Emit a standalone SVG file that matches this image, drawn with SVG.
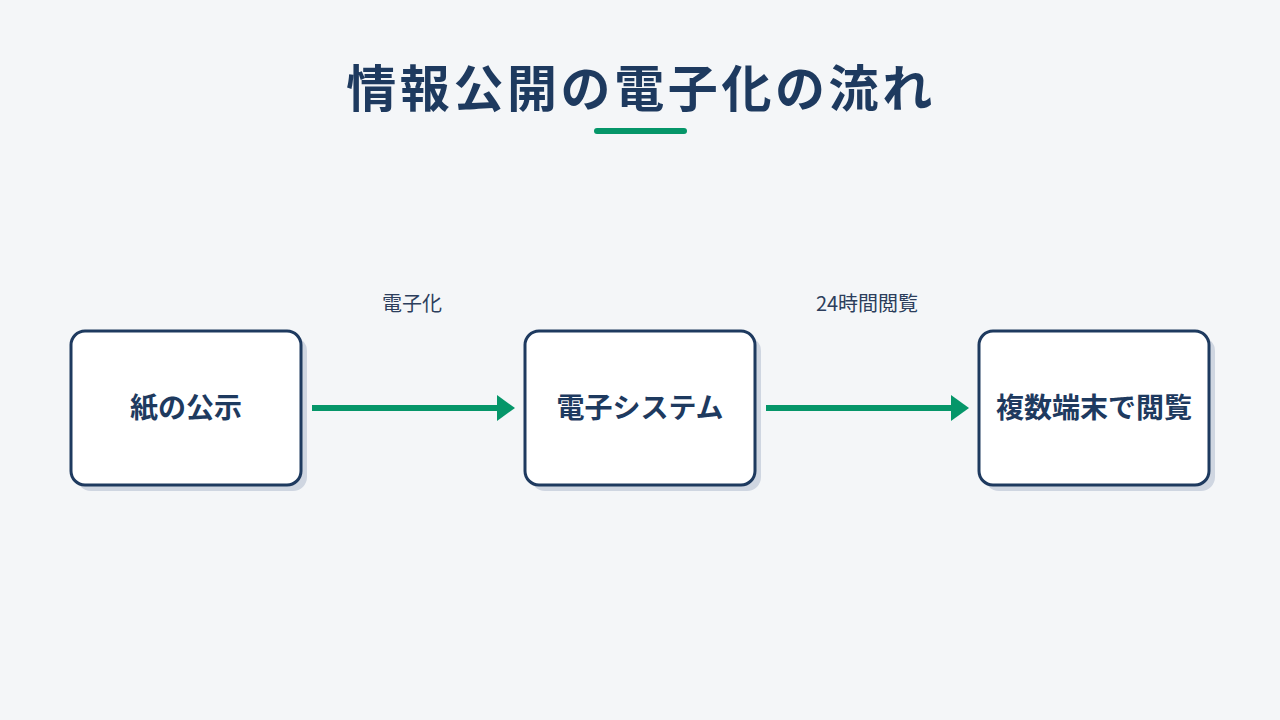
<svg xmlns="http://www.w3.org/2000/svg" width="1280" height="720" viewBox="0 0 1280 720">
<defs>
<style>
.box{fill:#ffffff;stroke:#1e3a5f;stroke-width:3}
.shadow{fill:#cfd6e1}
.ntext{font-family:"Noto Sans CJK JP","Noto Sans",sans-serif;font-weight:700;font-size:28px;fill:#1e3a5f;text-anchor:middle;dominant-baseline:central}
.label{font-family:"Noto Sans CJK JP","Noto Sans",sans-serif;font-size:20px;fill:#2c3e5c;text-anchor:middle;dominant-baseline:central}
.conn{stroke:#059669;stroke-width:6;fill:none}
</style>
<marker id="ah" markerWidth="18" markerHeight="26" refX="0" refY="13" orient="auto" markerUnits="userSpaceOnUse">
<path d="M0,0 L18,13 L0,26 Z" fill="#059669"/>
</marker>
</defs>
<rect width="1280" height="720" fill="#f4f6f8"/>
<g id="title">
<text x="641" y="85" font-family="Noto Sans CJK JP, Noto Sans, sans-serif" font-weight="700" font-size="50" fill="#1e3a5f" text-anchor="middle" dominant-baseline="central" letter-spacing="3.6">情報公開の電子化の流れ</text>
<line x1="597" y1="131" x2="684" y2="131" stroke="#059669" stroke-width="6" stroke-linecap="round"/>
</g>
<g id="connectors">
<line class="conn" x1="312" y1="408" x2="497" y2="408" marker-end="url(#ah)"/>
<line class="conn" x1="766" y1="408" x2="951" y2="408" marker-end="url(#ah)"/>
<text class="label" x="412" y="302">電子化</text>
<text class="label" x="867" y="302">24時間閲覧</text>
</g>
<g id="node1">
<rect class="shadow" x="77" y="337" width="230" height="154" rx="14"/>
<rect class="box" x="71" y="331" width="230" height="154" rx="14"/>
<text class="ntext" x="186" y="406">紙の公示</text>
</g>
<g id="node2">
<rect class="shadow" x="531" y="337" width="230" height="154" rx="14"/>
<rect class="box" x="525" y="331" width="230" height="154" rx="14"/>
<text class="ntext" x="640" y="406">電子システム</text>
</g>
<g id="node3">
<rect class="shadow" x="985" y="337" width="230" height="154" rx="14"/>
<rect class="box" x="979" y="331" width="230" height="154" rx="14"/>
<text class="ntext" x="1094" y="406">複数端末で閲覧</text>
</g>
</svg>
